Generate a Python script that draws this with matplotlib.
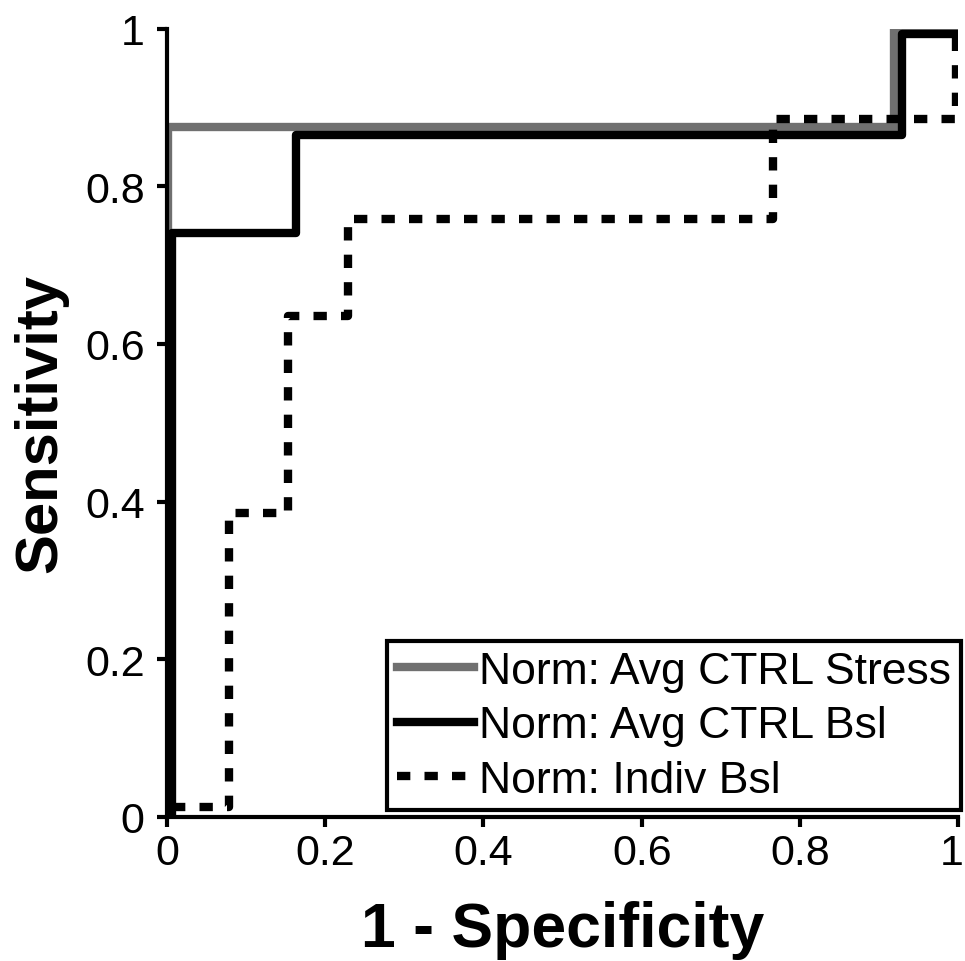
import matplotlib
matplotlib.use('Agg')
import matplotlib.pyplot as plt
import matplotlib.transforms as mtransforms

plt.rcParams['font.family'] = ['Liberation Sans', 'DejaVu Sans']

# ROC curves (1 - specificity, sensitivity)
stress_x = [0.001, 0.001, 0.919, 0.919, 1.0]
stress_y = [0.0, 0.876, 0.876, 1.0, 1.0]

bsl_x = [0.006, 0.006, 0.163, 0.163, 0.929, 0.929, 1.0]
bsl_y = [0.0, 0.741, 0.741, 0.865, 0.865, 0.993, 0.993]

indiv_x = [0.006, 0.078, 0.078, 0.153, 0.153, 0.229, 0.229, 0.766, 0.766, 0.997, 0.997]
indiv_y = [0.012, 0.012, 0.386, 0.386, 0.635, 0.635, 0.759, 0.759, 0.886, 0.886, 1.0]

labels = ['Norm: Avg CTRL Stress', 'Norm: Avg CTRL Bsl', 'Norm: Indiv Bsl']
ticks = [0, 0.2, 0.4, 0.6, 0.8, 1]
tick_labels = ['0', '0.2', '0.4', '0.6', '0.8', '1']

fig = plt.figure(figsize=(9.65, 9.62), dpi=100)
ax = fig.add_axes([0.173, 0.15, 0.82, 0.819])

ax.plot(stress_x, stress_y, color='#707070', lw=6, label=labels[0], solid_joinstyle='miter')
ax.plot(bsl_x, bsl_y, color='black', lw=6, label=labels[1], solid_joinstyle='round')
ax.plot(indiv_x, indiv_y, color='black', lw=6, dashes=(1.6, 1.7), label=labels[2])

ax.set_xlim(0, 1)
ax.set_ylim(0, 1)
ax.set_xticks(ticks)
ax.set_xticklabels(tick_labels)
ax.set_yticks(ticks)
ax.set_yticklabels(tick_labels)
for s in ['top', 'right']:
    ax.spines[s].set_visible(False)
for s in ['left', 'bottom']:
    ax.spines[s].set_linewidth(3)
ax.tick_params(direction='out', length=7, width=3, labelsize=31)
ax.tick_params(axis='y', pad=9)
ax.tick_params(axis='x', pad=5)

# keep the last x tick label inside the canvas
last = ax.get_xticklabels()[-1]
last.set_transform(last.get_transform() + mtransforms.ScaledTranslation(-5 / 72, 0, fig.dpi_scale_trans))

ax.set_xlabel('1 - Specificity', fontsize=45, fontweight='bold', labelpad=19)
ax.set_ylabel('Sensitivity', fontsize=43, fontweight='bold', labelpad=12)

leg = ax.legend(loc='lower right', bbox_to_anchor=(1.003, 0.008), fontsize=32,
                handlelength=1.75, handletextpad=0.1, borderpad=0.22, labelspacing=0.3,
                fancybox=False, framealpha=1, borderaxespad=0)
leg.get_frame().set_edgecolor('black')
leg.get_frame().set_linewidth(3)

plt.savefig('out.png', dpi=100)
